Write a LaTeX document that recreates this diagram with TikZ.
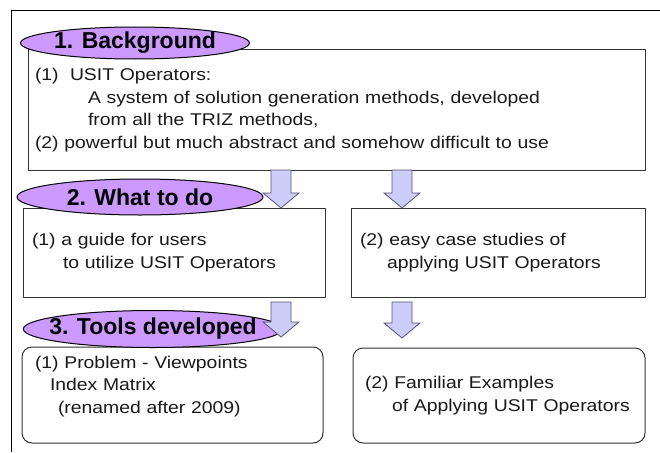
\documentclass[tikz,border=0pt]{standalone}
\usepackage{fontspec}
\setmainfont{Liberation Sans}
\newfontfamily\bodyfont[FakeStretch=1.14]{Liberation Sans}
\usepackage{xcolor}
\usetikzlibrary{calc, positioning, shapes.geometric}
\definecolor{ovalfill}{RGB}{204,153,255}
\definecolor{arrowfill}{RGB}{205,205,250}
\definecolor{arrowline}{RGB}{85,85,110}

\begin{document}
\begin{tikzpicture}[x=1pt, y=-1pt, line join=bevel,
    box/.style={draw=black!80, line width=1pt, outer sep=0pt, inner ysep=0pt,
                align=left, text=black!90, font=\bodyfont\fontsize{17}{22.5}\selectfont},
    oval/.style={draw, ellipse, fill=ovalfill, line width=1pt, inner sep=0pt,
                 font=\bfseries\fontsize{23}{23}\selectfont},
    blockarrow/.style={draw=arrowline, fill=arrowfill, line width=0.8pt, line join=miter,
      to path={let \p1=(\tikztostart), \p2=(\tikztotarget) in
        (\x1-10pt,\y1) -- (\x1+10pt,\y1) -- (\x1+10pt,\y2+15pt) -- (\x1+18pt,\y2+15pt)
        -- (\x1,\y2) -- (\x1-18pt,\y2+15pt) -- (\x1-10pt,\y2+15pt) -- cycle}}]
  \useasboundingbox (0,0) rectangle (660,452);
  % outer frame
  \draw[line width=1.5pt] (11.5,452) -- (11.5,10.5) -- (660,10.5);

  % boxes
  \node[box, inner xsep=7pt, text width=603pt, minimum height=120pt, anchor=north west]
    (bg) at (28,50) {(1)\ \ USIT Operators:\\
      \hspace*{53pt}A system of solution generation methods, developed\\
      \hspace*{53pt}from all the TRIZ methods,\\
      (2) powerful but much abstract and somehow difficult to use};
  \node[box, inner xsep=9pt, text width=284pt, minimum height=89pt, anchor=north west]
    (guide) at (23,208) {(1) a guide for users\\
      \hspace*{31pt}to utilize USIT Operators};
  \node[box, inner xsep=9pt, text width=276pt, minimum height=89pt, anchor=north west]
    (cases) at (351,208) {(2) easy case studies of\\
      \hspace*{27pt}applying USIT Operators};
  \node[box, rounded corners=10pt, inner xsep=13pt, text width=275pt, minimum height=96pt,
        anchor=north west] (matrix) at (22,347) {(1) Problem - Viewpoints\\
      \hspace*{15pt}Index Matrix\\
      \hspace*{23pt}(renamed after 2009)\\[-2pt]\mbox{}};
  \node[box, rounded corners=10pt, inner xsep=12pt, text width=268pt, minimum height=95pt,
        anchor=north west] (examples) at (353,348) {(2) Familiar Examples\\
      \hspace*{27pt}of Applying USIT Operators};

  % headings
  \node[oval, minimum width=228pt, minimum height=32pt] (head1) at (135,43) {1. Background};
  \node[oval, minimum width=246pt, minimum height=36pt] (head2) at (140,197) {2. What to do};
  \node[oval, inner xsep=-12pt, minimum width=258pt, minimum height=37pt] (head3) at (153,329)
    {3. Tools developed};

  % arrows
  \draw[blockarrow] (bg.south -| 281,0) to (guide.north -| 281,0);
  \draw[blockarrow] (bg.south -| 402,0) to (cases.north -| 402,0);
  \draw[blockarrow] ($(guide.south -| 281,0)+(0,5)$) to ($(matrix.north -| 281,0)+(0,-10)$);
  \draw[blockarrow] ($(cases.south -| 402,0)+(0,5)$) to ($(examples.north -| 402,0)+(0,-10)$);
\end{tikzpicture}
\end{document}
